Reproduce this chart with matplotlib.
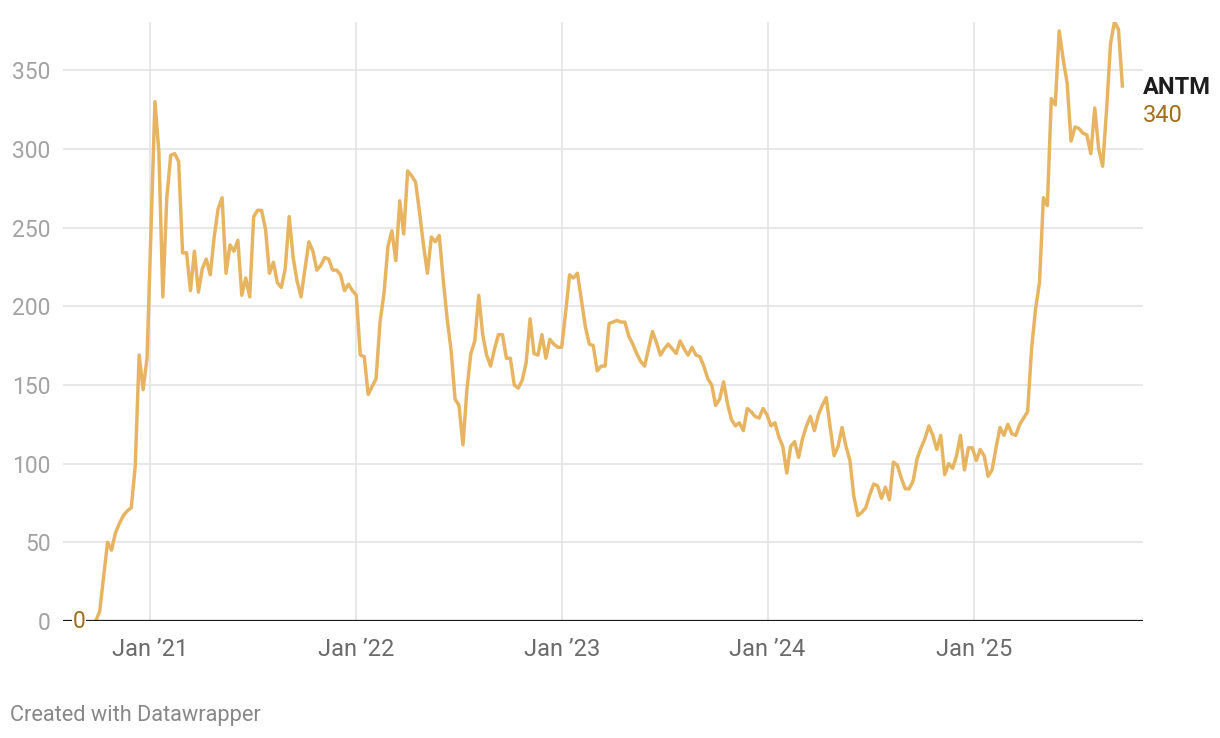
import matplotlib
matplotlib.use("Agg")
import matplotlib.pyplot as plt
import pandas as pd

plt.rcParams['font.family'] = ['Roboto', 'DejaVu Sans']

# weekly values, first week starting 2020-09-27
values = [
    0, 6, 28, 50, 45, 56, 62, 67, 70, 72, 98, 169, 147, 167, 248, 330, 298, 206,
    269, 296, 297, 292, 234, 234, 210, 235, 209, 224, 230, 220, 244, 262, 269, 221,
    239, 235, 242, 207, 218, 206, 257, 261, 261, 249, 221, 228, 215, 212, 224, 257,
    231, 216, 206, 224, 241, 235, 223, 226, 231, 230, 223, 223, 220, 210, 214, 210,
    207,
    # 2022
    169, 168, 144, 149, 154, 190, 208, 238, 248, 229, 267, 246, 286, 283, 279, 260,
    239, 221, 244, 241, 245, 217, 192, 172, 141, 137, 112, 147, 170, 178, 207, 182,
    169, 162, 173, 182, 182, 167, 167, 150, 148, 153, 164, 192, 170, 169, 182, 167,
    179, 176, 174, 174,
    # 2023
    196, 220, 218, 221, 204, 187, 176, 175, 159, 162, 162, 189, 190, 191, 190, 190,
    181, 176, 170, 165, 162, 173, 184, 177, 169, 173, 176, 173, 170, 178, 173, 169,
    174, 169, 168, 162, 154, 150, 137, 141, 152, 138, 128, 124, 126, 121, 135, 133,
    130, 129, 135, 131,
    # 2024
    124, 126, 117, 111, 94, 111, 114, 104, 116, 124, 130, 121, 131, 137, 142, 123,
    105, 111, 123, 111, 102, 79, 67, 69, 72, 80, 87, 86, 78, 85, 77, 101,
    99, 91, 84, 84, 89, 103, 110, 116, 124, 118, 109, 118, 93, 100, 97, 105,
    118, 96, 110, 110,
    # 2025
    102, 109, 105, 92, 96, 110, 123, 118, 125, 119, 118, 125, 129, 133, 173, 198,
    215, 269, 264, 332, 328, 375, 357, 342, 305, 314, 313, 310, 309, 297, 326, 300,
    289, 325, 367, 381, 376, 340,
]
dates = pd.date_range("2020-09-27", periods=len(values), freq="7D")

series_name = "ANTM"
y_ticks = [0, 50, 100, 150, 200, 250, 300, 350]
x_ticks = pd.to_datetime(["2021-01-01", "2022-01-01", "2023-01-01", "2024-01-01", "2025-01-01"])
x_labels = ["Jan \u201921", "Jan \u201922", "Jan \u201923", "Jan \u201924", "Jan \u201925"]

line_color = "#e7b562"
label_color = "#a06f17"
grid_color = "#e4e4e4"

fig = plt.figure(figsize=(12.2, 7.38), dpi=100)
ax = fig.add_axes([63 / 1220, 1 - 621 / 738, (1142.7 - 63) / 1220, (621 - 21.5) / 738])

ax.plot(dates, values, color=line_color, lw=2.5, solid_joinstyle="round", zorder=3)

ax.set_ylim(0, 381)
ax.set_xlim(pd.Timestamp("2021-01-01") - pd.Timedelta(days=154),
            pd.Timestamp("2021-01-01") + pd.Timedelta(days=1760))

for y in y_ticks[1:]:
    ax.axhline(y, color=grid_color, lw=1.2, zorder=1)
for x in x_ticks:
    ax.axvline(x, color=grid_color, lw=1.2, zorder=1)
ax.axhline(0, color="#1a1a1a", lw=1.6, zorder=4)

ax.set_yticks(y_ticks)
ax.set_yticklabels([str(v) for v in y_ticks])
ax.set_xticks(x_ticks)
ax.set_xticklabels(x_labels)
ax.tick_params(axis="y", length=0, pad=9, labelsize=16.5, labelcolor="#a3a3a3")
ax.tick_params(axis="x", length=0, pad=12, labelsize=17, labelcolor="#6b6b6b")
for s in ax.spines.values():
    s.set_visible(False)

# start value label
ax.text(dates[0] - pd.Timedelta(days=30), values[0], "0", color=label_color, fontsize=16.5,
        ha="center", va="center", zorder=5,
        bbox=dict(facecolor="white", edgecolor="none", pad=0.5))

# end labels
ax.annotate(series_name, xy=(1143 / 1220, 1 - 88 / 738), xycoords="figure fraction",
            fontsize=17, fontweight="bold", color="#1d1d1d", ha="left", va="center")
ax.annotate(str(values[-1]), xy=(1143 / 1220, 1 - 116 / 738), xycoords="figure fraction",
            fontsize=17, color=label_color, ha="left", va="center")

fig.text(10 / 1220, 1 - 715 / 738, "Created with Datawrapper", fontsize=15.7,
         color="#888888", ha="left", va="center")

fig.savefig("out.png", dpi=100, facecolor="white")
